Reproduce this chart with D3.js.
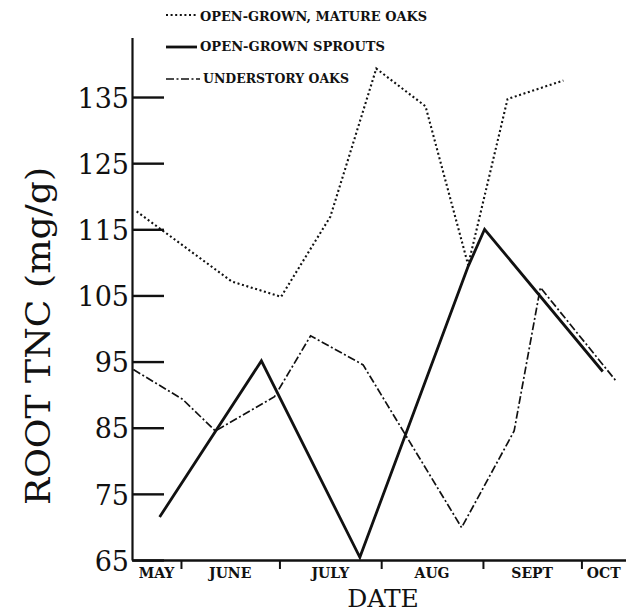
<!DOCTYPE html>
<html>
<head>
<meta charset="utf-8">
<script src="https://cdn.jsdelivr.net/npm/d3@7"></script>
<style>
  html, body { margin: 0; padding: 0; background: #fff; }
  svg { display: block; }
</style>
</head>
<body>
<svg id="chart" width="626" height="614"></svg>
<script>
// ---- data ----
const monthLabels = ["MAY", "JUNE", "JULY", "AUG", "SEPT", "OCT"];
const yTickValues = [65, 75, 85, 95, 105, 115, 125, 135];

const seriesNames = ["OPEN-GROWN, MATURE OAKS", "OPEN-GROWN SPROUTS", "UNDERSTORY OAKS"];

const matureDates  = ["05-18", "06-16", "07-01", "07-16", "07-30", "08-14", "08-27", "09-08", "09-25"];
const matureValues = [117.7, 107.1, 104.8, 116.9, 139.3, 133.6, 109.6, 134.7, 137.5];

const sproutDates  = ["05-25", "06-25", "07-25", "08-27", "09-01", "10-07"];
const sproutValues = [71.5, 95.1, 65.4, 109.4, 115.0, 93.5];

const underDates  = ["05-17", "06-01", "06-11", "06-29", "07-10", "07-26", "08-25", "09-10", "09-18", "10-11"];
const underValues = [93.8, 89.3, 84.5, 89.7, 98.9, 94.5, 69.9, 84.5, 106.2, 92.1];

// ---- setup ----
const svg = d3.select("#chart");
const parse = d3.timeParse("%Y-%m-%d");
const toDate = s => { const d = parse("1990-" + s); d.setHours(12); return d; };

const x0 = new Date(1990, 4, 17, 2);
const x1 = new Date(1990, 9, 14, 14);
const x = d3.scaleTime().domain([x0, x1]).range([132, 626]);
const y = d3.scaleLinear().domain([65, 144]).range([560, 37.5]);

const serifFont = "'DejaVu Serif', 'Liberation Serif', serif";

// ---- axes ----
const yAxis = d3.axisLeft(y)
  .tickValues(yTickValues)
  .tickSizeInner(-32)
  .tickSizeOuter(0)
  .tickPadding(3)
  .tickFormat(d3.format("d"));

const gy = svg.append("g").attr("transform", "translate(132,0)").call(yAxis);
gy.select(".domain").attr("stroke", "#111").attr("stroke-width", 2.2);
gy.selectAll(".tick line").attr("stroke", "#111").attr("stroke-width", 2.4);
gy.selectAll(".tick text")
  .attr("fill", "#111")
  .attr("font-family", serifFont)
  .attr("font-size", 27)
  .attr("dy", "0.38em");

const monthStarts = d3.timeMonth.range(new Date(1990, 5, 1), new Date(1990, 9, 2));
const xAxis = d3.axisBottom(x)
  .tickValues(monthStarts)
  .tickSizeInner(9)
  .tickSizeOuter(0)
  .tickFormat("");

const gx = svg.append("g").attr("transform", "translate(0,560)").call(xAxis);
gx.select(".domain").attr("stroke", "#111").attr("stroke-width", 2.6);
gx.selectAll(".tick line").attr("stroke", "#111").attr("stroke-width", 2);

// month labels centred in the visible part of each month
const monthsAll = d3.timeMonth.range(new Date(1990, 4, 1), new Date(1990, 11, 1));
svg.append("g").selectAll("text")
  .data(monthLabels)
  .join("text")
  .attr("x", (d, i) => {
    const s = monthsAll[i] < x0 ? x0 : monthsAll[i];
    const e = monthsAll[i + 1] > x1 ? x1 : monthsAll[i + 1];
    return (x(s) + x(e)) / 2;
  })
  .attr("y", 578)
  .attr("text-anchor", "middle")
  .attr("font-family", serifFont)
  .attr("font-weight", "bold")
  .attr("font-size", 14)
  .attr("fill", "#111")
  .text(d => d);

// axis titles
svg.append("text")
  .attr("x", 383).attr("y", 607)
  .attr("text-anchor", "middle")
  .attr("font-family", serifFont)
  .attr("font-size", 25)
  .attr("fill", "#111")
  .text("DATE");

svg.append("text")
  .attr("transform", "translate(50,336) rotate(-90)")
  .attr("text-anchor", "middle")
  .attr("font-family", serifFont)
  .attr("font-size", 34)
  .attr("textLength", 338)
  .attr("lengthAdjust", "spacingAndGlyphs")
  .attr("fill", "#111")
  .text("ROOT TNC (mg/g)");

// ---- lines ----
const styles = [
  { dash: "2,2.6", width: 2.1 },
  { dash: null, width: 2.8 },
  { dash: "8,2.5,2,2.5", width: 1.7 }
];

const series = [
  { dates: matureDates, values: matureValues },
  { dates: sproutDates, values: sproutValues },
  { dates: underDates, values: underValues }
];

const line = d3.line().x(d => x(d[0])).y(d => y(d[1]));

series.forEach((s, i) => {
  const pts = s.dates.map((d, j) => [toDate(d), s.values[j]]);
  const p = svg.append("path")
    .datum(pts)
    .attr("d", line)
    .attr("fill", "none")
    .attr("stroke", "#111")
    .attr("stroke-width", styles[i].width)
    .attr("stroke-linejoin", "miter");
  if (styles[i].dash) p.attr("stroke-dasharray", styles[i].dash);
});

// ---- legend ----
const legendRows = [
  { ly: 15, ty: 21, x0: 166, x1: 197, tx: 200, tl: 227 },
  { ly: 47, ty: 51, x0: 166, x1: 197, tx: 200, tl: 185 },
  { ly: 79, ty: 83, x0: 166, x1: 200, tx: 203, tl: 146 }
];
const lg = svg.append("g");
seriesNames.forEach((name, i) => {
  const r = legendRows[i];
  const l = lg.append("line")
    .attr("x1", r.x0).attr("x2", r.x1)
    .attr("y1", r.ly).attr("y2", r.ly)
    .attr("stroke", "#111")
    .attr("stroke-width", styles[i].width);
  if (styles[i].dash) l.attr("stroke-dasharray", styles[i].dash);
  lg.append("text")
    .attr("x", r.tx).attr("y", r.ty)
    .attr("font-family", serifFont)
    .attr("font-weight", "bold")
    .attr("font-size", 13)
    .attr("textLength", r.tl)
    .attr("lengthAdjust", "spacingAndGlyphs")
    .attr("fill", "#111")
    .text(name);
});
</script>
</body>
</html>
